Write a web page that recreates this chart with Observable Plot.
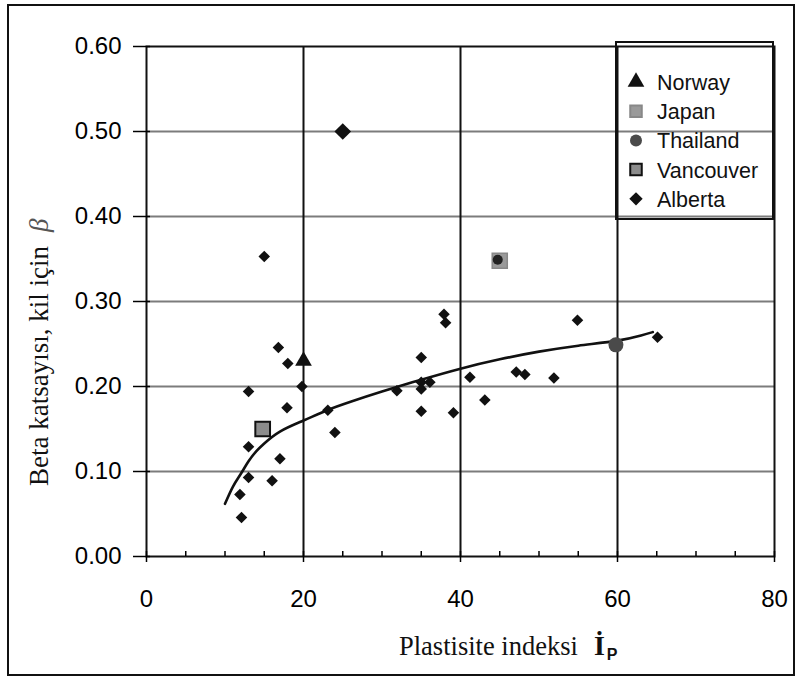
<!DOCTYPE html>
<html><head><meta charset="utf-8">
<script src="https://cdn.jsdelivr.net/npm/d3@7"></script>
<script src="https://cdn.jsdelivr.net/npm/@observablehq/plot@0.6"></script>
<style>body{margin:0;background:#fff}</style>
</head><body><div id="chart"></div>
<script>
// Data
const norwayX = [20], norwayY = [0.23];
const japanX = [45], japanY = [0.348];
const thailandX = [59.8], thailandY = [0.249];
const vancouverX = [14.8], vancouverY = [0.150];
const albertaX = [25, 15, 16.8, 18, 19.8, 13, 17.9, 23.1, 24, 13, 17, 13, 16, 11.9, 12.1,
  37.9, 38.1, 54.9, 35, 31.9, 35, 36.1, 35, 41.2, 47.1, 48.2, 51.9, 43.1, 35, 39.1, 65.1];
const albertaY = [0.50, 0.353, 0.246, 0.227, 0.200, 0.194, 0.175, 0.172, 0.146, 0.129, 0.115, 0.093, 0.089, 0.073, 0.046,
  0.285, 0.275, 0.278, 0.234, 0.195, 0.205, 0.205, 0.197, 0.211, 0.217, 0.214, 0.210, 0.184, 0.171, 0.169, 0.258];
const trendX = [10, 11, 12, 13, 14, 15, 17, 20, 23, 26, 30, 35, 40, 45, 50, 55, 60, 63, 64.5];
const trendY = [0.062, 0.082, 0.097, 0.112, 0.124, 0.133, 0.147, 0.160, 0.172, 0.182, 0.194, 0.208, 0.221, 0.232, 0.241, 0.248, 0.254, 0.260, 0.264];
const xTicks = [0, 20, 40, 60, 80];
const xMinorTicks = [0, 5, 10, 15, 20, 25, 30, 35, 40, 45, 50, 55, 60, 65, 70, 75, 80];
const yTicks = [0, 0.1, 0.2, 0.3, 0.4, 0.5, 0.6];
const gridX = [20, 40, 60];
const gridY = [0.1, 0.2, 0.3, 0.4, 0.5];
const seriesNames = ["Norway", "Japan", "Thailand", "Vancouver", "Alberta"];

const zip = (xs, ys) => xs.map((x, i) => ({x, y: ys[i]}));
const norway = zip(norwayX, norwayY);
const japan = zip(japanX, japanY);
const thailand = zip(thailandX, thailandY);
const vancouver = zip(vancouverX, vancouverY);
const alberta = zip(albertaX, albertaY);
const trend = zip(trendX, trendY);

const chart = Plot.plot({
  width: 798, height: 680,
  marginLeft: 146, marginRight: 24, marginTop: 46, marginBottom: 124,
  x: {domain: [0, 80]},
  y: {domain: [0, 0.6]},
  style: {fontFamily: "'Liberation Sans', Arial, sans-serif", fontSize: "24px", color: "black", background: "white"},
  marks: [
    Plot.ruleY(gridY, {stroke: "#7c7c7c", strokeWidth: 2.2}),
    Plot.ruleX(gridX, {stroke: "#111", strokeWidth: 2}),
    Plot.frame({stroke: "#111", strokeWidth: 2}),
    Plot.axisY({ticks: yTicks, tickFormat: d3.format(".2f"), tickSize: 13, tickPadding: 12, label: null, fontSize: 24, strokeWidth: 1.5}),
    Plot.axisY({ticks: yTicks, tickFormat: () => "", tickSize: 4, dx: 4, label: null, strokeWidth: 1.5}),
    Plot.axisX({ticks: xTicks, tickSize: 6, tickPadding: 27, label: null, fontSize: 24, strokeWidth: 1.5}),
    Plot.axisX({ticks: xMinorTicks, tickFormat: () => "", tickSize: 5, dy: -5, label: null, strokeWidth: 1.5}),
    Plot.line(trend, {x: "x", y: "y", stroke: "#111", strokeWidth: 2.6, curve: "natural"}),
    Plot.dot(alberta.filter(d => d.y < 0.45), {x: "x", y: "y", symbol: "diamond2", fill: "#111", r: 5.2}),
    Plot.dot(alberta.filter(d => d.y >= 0.45), {x: "x", y: "y", symbol: "diamond2", fill: "#111", r: 7.5}),
    Plot.dot(norway, {x: "x", y: "y", symbol: "triangle", fill: "#111", r: 6.2}),
    Plot.dot(japan, {x: "x", y: "y", symbol: "square", fill: "#9a9a9a", stroke: "#888", r: 8.5}),
    Plot.dot(japan, {x: "x", y: "y", symbol: "circle", fill: "#222", r: 5, dx: -2, dy: -1}),
    Plot.dot(thailand, {x: "x", y: "y", symbol: "circle", fill: "#4a4a4a", r: 7.5}),
    Plot.dot(vancouver, {x: "x", y: "y", symbol: "square", fill: "#8c8c8c", stroke: "#111", strokeWidth: 2, r: 8.3})
  ]
});

const svg = d3.select(chart);
// outer figure border
svg.append("rect").attr("x", 8).attr("y", 5).attr("width", 786).attr("height", 670)
  .attr("fill", "none").attr("stroke", "#111").attr("stroke-width", 2);

// y-axis title
const yt = svg.append("text")
  .attr("transform", "translate(48,486) rotate(-90)")
  .attr("text-anchor", "start")
  .attr("font-family", "'Liberation Serif', 'Times New Roman', serif")
  .attr("font-size", 27).attr("fill", "#111");
yt.append("tspan").text("Beta katsayısı, kil için");
yt.append("tspan").attr("dx", 14).attr("font-style", "italic").attr("fill", "#555").text("β");

// x-axis title
const xt = svg.append("text")
  .attr("x", 399).attr("y", 655)
  .attr("text-anchor", "start")
  .attr("font-family", "'Liberation Serif', 'Times New Roman', serif")
  .attr("font-size", 26.5).attr("fill", "#111");
xt.append("tspan").text("Plastisite indeksi");
xt.append("tspan").attr("dx", 16).attr("font-weight", "bold").attr("font-size", 28).text("İ");
xt.append("tspan").attr("dx", 2).attr("dy", 5).attr("font-family", "'Liberation Sans', Arial, sans-serif").attr("font-size", 16).attr("font-weight", "bold").text("P");

// legend
const lg = svg.append("g").attr("text-anchor", "start");
lg.append("rect").attr("x", 616).attr("y", 42).attr("width", 157).attr("height", 177)
  .attr("fill", "none").attr("stroke", "#111").attr("stroke-width", 2);
const legendStyles = [
  {sym: d3.symbolTriangle, size: Math.PI * 6.2 * 6.2, fill: "#111", stroke: "none"},
  {sym: d3.symbolSquare, size: Math.PI * 6.5 * 6.5, fill: "#9a9a9a", stroke: "#888"},
  {sym: d3.symbolCircle, size: Math.PI * 6 * 6, fill: "#4a4a4a", stroke: "none"},
  {sym: d3.symbolSquare, size: Math.PI * 6.5 * 6.5, fill: "#8c8c8c", stroke: "#111"},
  {sym: d3.symbolDiamond2, size: Math.PI * 6 * 6, fill: "#111", stroke: "none"}
];
seriesNames.forEach((name, i) => {
  const cy = 82 + i * 29.2;
  const s = legendStyles[i];
  lg.append("path").attr("d", d3.symbol(s.sym, s.size)()).attr("transform", `translate(636,${cy})`)
    .attr("fill", s.fill).attr("stroke", s.stroke).attr("stroke-width", 2);
  lg.append("text").attr("x", 657).attr("y", cy + 8).attr("text-anchor", "start")
    .attr("font-family", "'Liberation Sans', Arial, sans-serif").attr("font-size", 21.5).attr("fill", "#111").text(name);
});

document.getElementById("chart").appendChild(chart);
</script>
</body></html>
